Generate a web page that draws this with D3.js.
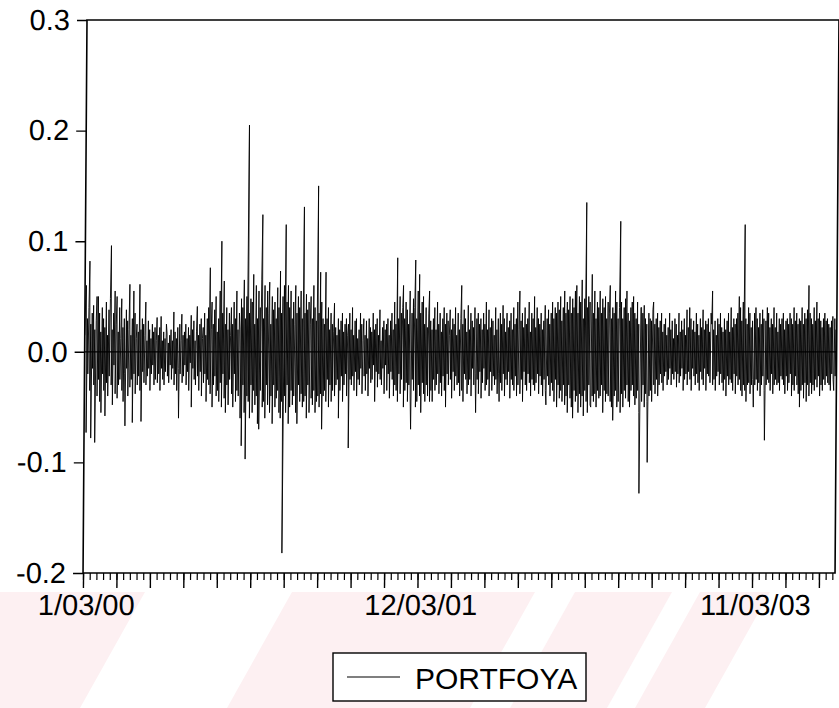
<!DOCTYPE html>
<html>
<head>
<meta charset="utf-8">
<script src="https://cdn.jsdelivr.net/npm/d3@7"></script>
<style>
    body { margin: 0; background: #fff; }
    svg text { font-family: Arial, "Liberation Sans", sans-serif; fill: #000; }
</style>
</head>
<body>
<div id="chart"></div>
<script>
// daily portfolio returns, in thousandths (0.001)
var r2000 = [
    15, 45, 60, -73, 30, -20, 40, 82, -35, 25,
    -78, 35, -15, 42, -30, 20, -82, 28, 50, -40,
    50, -25, 35, -45, 18, -55, 40, -20, 30, -35,
    22, -58, 45, -28, 15, -40, 38, -22, 48, 96,
    -30, 20, -48, 35, -12, 55, -38, 25, 50, -42,
    18, -30, 40, -25, 12, 48, -35, 22, -45, 30,
    -20, -67, 38, -15, 28, -40, 20, 61, -32, 15,
    -25, 30, -64, 55, -20, 35, -38, 12, 25, -30,
    18, -22, 61, -35, 20, -63, 30, -18, 25, -28,
    15, 45, -30, 10, -22, 28, -15, 20, -35, 12,
    -20, 25, -12, 18, -30, 22, -25, 10, 31, -28,
    15, -20, 22, -35, 32, -15, 10, -25, 18, -30,
    12, -18, 25, 17, -22, 8, -28, 15, -12, 20,
    -25, 10, -15, 36, -30, 18, -20, 12, -35, 22,
    -15, -60, 25, -20, 10, 34, -28, 15, -22, 18,
    -12, 25, -30, 12, -18, 22, -35, 15, -10, 33,
    -50, 20, -15, 28, -25, 10, -30, 18, 41, -22,
    15, -35, 25, -18, 30, -40, 12, 22, -28, 35,
    -20, 15, -45, 30, -25, 40, -30, 76, -38, 20,
    45, -50, 25, -30, 38, -22, 50, -40, 18, -35,
    30, -45, 55, -28, 100, -50, 35, -20, 64, -42,
    25, -55, 40, -30, 20, -48, 35, -25, 15, 40,
    -38, 25, -50, 45, -20, 30, -45, 55, -35, 20,
    -40, 35, 20, -60, 48, -85, 40, -30, 65, -55,
    30, -97, 50, -40, 205, -45, 35, -60, 48, -30,
    45, -55, 70, -35, 25, -48, 60, -40, 30, -65
];
var r2001 = [
    55, -70, 40, -35, 65, 124, -50, 30, -45, 60,
    -60, 40, -30, 55, -48, 35, 63, -55, 25, -40,
    50, -65, 38, -30, 45, -50, 30, -42, 58, -35,
    40, -55, 73, -60, 35, -45, 50, -182, 60, -40,
    115, -55, 45, -30, 60, -65, 40, -50, 55, -35,
    30, -48, 45, -40, 25, 60, -55, 35, -65, 50,
    -30, 40, -45, 55, -38, 30, -50, 131, -45, 35,
    -40, 52, -60, 38, -30, 45, -55, 25, 50, -42,
    30, -48, 60, -35, 40, -55, 28, -45, 150, -40,
    35, -50, 72, -38, 45, -70, 30, -40, 25, -35,
    72, -45, 30, -25, 40, -50, 20, -30, 35, -45,
    25, -35, 18, 44, -40, 22, -30, 15, -25, 30,
    -60, 20, -35, 28, -22, 35, -45, 18, -30, 25,
    -20, 30, -40, 15, 25, -87, 35, -25, 20, -30,
    40, -22, 15, -35, 28, -18, 30, -40, 12, -25,
    20, -30, 35, -15, 25, -38, 10, 30, -22, 15,
    -35, 28, -20, 12, -40, 30, -15, 22, -28, 18,
    -25, 35, -12, 20, -45, 25, -18, 30, -32, 15,
    -20, 38, -25, 10, -30, 22, -15, 28, -38, 20,
    -12, 25, -35, 30, -20, 15, -42, 28, -18, 35,
    -25, 20, -40, 45, -30, 25, -35, 85, -45, 30,
    -20, 50, -38, 35, -25, 40, 60, -50, 30, -35,
    45, -28, 38, -45, 25, -30, 55, -40, -70, 35,
    -25, 48, -35, 40, 83, -50, 30, -45, 55, -30,
    70, -40, 35, -55, 45, -28, 50, -38, 25, -45,
    40, -30, 22, -40, 35, 55, -45, 28, -35, 20,
    -45
];
var r2002 = [
    30, -25, 40, -35, 20, -30, 45, -20, 25, -38,
    35, -28, 18, -40, 30, -22, 40, -35, 25, -50,
    35, -20, 28, -30, 15, 38, -25, 20, -42, 30,
    -18, 25, -35, 40, -22, 15, -30, 35, -28, 20,
    -40, 30, 60, -35, 25, -45, 38, -20, 30, -25,
    18, -38, 42, -30, 20, -25, 35, -40, 28, -15,
    22, -30, 40, -20, -55, 30, -25, 35, -38, 25,
    -18, 30, -42, 20, -28, 35, -15, 25, -35, 45,
    -30, 20, -25, 38, -40, 22, -18, 30, -35, 28,
    -22, 15, -30, 40, -25, 20, -38, 30, -20, -45,
    35, -28, 25, -35, 42, -20, 30, -40, 18, -25,
    35, -30, 22, -18, 28, -42, 35, -25, 20, -30,
    40, -35, 25, -22, 30, -40, 45, -30, 20, 55,
    -38, 28, -25, 35, -45, 22, -18, 40, -30, 25,
    -35, 30, -20, 45, -28, 18, -40, 35, -25, 30,
    -30, 50, -35, 22, -28, 40, -20, 30, -38, 25,
    -22, 35, -30, 20, -40, 28, -25, 42, -35, -48,
    30, -22, 38, -30, 25, -40, 35, -28, 45, -35,
    30, -45, 40, -25, 35, -50, 45, -30, 38, -42,
    50, -35, 28, -45, 40, -30, 55, -48, 35, -40,
    45, -55, 38, -30, 50, -42, 35, -50, 48, -60,
    40, -35, 55, -45, 60, -40, 35, -55, 50, -38,
    45, -50, 65, -40, 30, -58, 48, -35, 135, -45,
    40, -55, 50, -30, 45, -48, -50, 70, -40, 35,
    -45, 55, -38, 30, -50, 45, -35, 40, -42, 55,
    -40, 35, -30, 48, -55, 40, -35, 50, -45, 30,
    -38
];
var r2003 = [
    45, -40, 35, 60, -45, 30, -50, 40, -62, 35,
    -40, 55, -35, 45, -50, 30, -45, 40, 118, -55,
    45, -38, 30, -50, 40, -35, 48, -42, 55, -30,
    35, -45, 28, -50, 40, -35, 45, -30, 50, -40,
    35, -48, 30, -42, 45, -35, 25, -55, -128, 40,
    40, -45, 35, -30, 42, -50, 30, -38, 25, -45,
    -100, 35, -40, 30, -35, 28, -45, 38, 45, -30,
    25, -38, 30, -25, 35, -40, 22, -30, 28, -20,
    35, -28, 18, -35, 25, -22, 30, -18, 15, -30,
    22, -25, 35, -15, 20, -30, 28, -20, 12, -25,
    30, -18, 25, -32, 15, -20, 35, -28, 18, -22,
    28, -15, 20, -35, 30, -25, 15, -20, 38, -30,
    22, -18, 40, -25, 30, -35, 20, -15, 28, -22,
    18, -30, 35, -20, 25, -28, 15, -35, 30, -18,
    22, -25, 38, -30, 20, -15, 28, -35, 25, -20,
    30, -22, 18, -28, 35, 25, 55, -30, 20, -25,
    28, -35, 15, -22, 30, -18, 25, -30, 35, -20,
    22, -28, 18, -35, 30, -25, 20, -40, 28, -22,
    35, -30, 18, -25, 40, -28, 22, -35, 30, -20,
    25, -38, 30, -22, 35, -30, 50, -25, 40, -35,
    28, -40, 45, -30, 115, -35, 30, -45, 25, -30,
    40, -28, 35, -38, 22, -30, 28, -25, -50, 35,
    -30, 40, -25, 30, -35, 22, -28, 35, -40, 25,
    -30, 38, -22, 30, -35, -80, 28, -30, 40, -25,
    35, -28, 22, -35, 30, -20, 25, -38, 40, -30,
    22, -25, 35, -30, 18, -28, 30, -35, 25, -22,
    30
];
var r2004 = [
    -25, 35, -30, 20, -38, 28, -22, 30, -35, 25,
    -28, 35, -20, 30, -40, 25, -30, 40, -35, 28,
    -22, 35, -30, 25, -38, 30, -50, 28, -35, 40,
    -30, 25, -42, 35, -28, 30, -45, 38, -30, 60,
    -40, 35, -28, 30, -38, 25, -30, 40, -35, 28,
    -25, 45, -32, 30, -22, 35, -40, 28, -30, 22,
    -35, 30, -25, 35, -30, 28, -22, 30, -28, 25,
    -30, 22, -35, 28, -20, 32, -25, -35, 30, -22,
    20, -15
];

var seriesName = "PORTFOYA";
var yTicks = [-0.2, -0.1, 0.0, 0.1, 0.2, 0.3];
var yTickLabels = ["-0.2", "-0.1", "0.0", "0.1", "0.2", "0.3"];
var dateLabels = ["1/03/00", "12/03/01", "11/03/03"];
var dateLabelObs = [0, 500, 1000];

var series = r2000.concat(r2001, r2002, r2003, r2004).map(function(v) {
    return v / 1000;
});

var width = 839;
var height = 708;
var plotW = 752;
var plotH = 553;

var svg = d3.select('#chart')
    .append('svg')
    .attr('width', width)
    .attr('height', height);

// pale watermark of the scanned page, visible under the chart only
svg.append('clipPath')
    .attr('id', 'wm')
    .append('rect')
    .attr('x', 0)
    .attr('y', 592)
    .attr('width', width)
    .attr('height', height - 592);

var bands = [[-100, 145], [292, 535], [575, 672], [700, 770]];
svg.append('g')
    .attr('clip-path', 'url(#wm)')
    .selectAll('polygon')
    .data(bands)
    .enter()
    .append('polygon')
    .attr('points', function(d) {
        var s = 65;
        return [[d[0], 592], [d[1], 592], [d[1] - s, 708], [d[0] - s, 708]].join(' ');
    })
    .attr('fill', '#fdf0f2');

// the scan is slightly skewed, so the plot is too
var g = svg.append('g')
    .attr('transform', 'translate(87,20) skewX(-0.41)');

var x = d3.scaleLinear()
    .domain([0, series.length - 1])
    .range([0, plotW]);

var y = d3.scaleLinear()
    .domain([-0.2, 0.3])
    .range([plotH, 0]);

// y axis
var yAxis = g.append('g')
    .call(d3.axisLeft(y)
        .tickValues(yTicks)
        .tickSize(10)
        .tickPadding(7)
        .tickFormat(function(d, i) {
            return yTickLabels[i];
        }));
yAxis.select('.domain').remove();
yAxis.selectAll('line').attr('stroke', '#000').attr('stroke-width', 1.4);
yAxis.selectAll('text').attr('font-size', 29).attr('font-family', null);

// x axis: minor ticks every 10 obs, major every 50
var minorAxis = g.append('g')
    .attr('transform', 'translate(0,' + plotH + ')')
    .call(d3.axisBottom(x)
        .tickValues(d3.range(0, series.length, 10))
        .tickSize(7)
        .tickFormat(''));
minorAxis.select('.domain').remove();
minorAxis.selectAll('line').attr('stroke', '#000').attr('stroke-width', 1.2);

var majorAxis = g.append('g')
    .attr('transform', 'translate(0,' + plotH + ')')
    .call(d3.axisBottom(x)
        .tickValues(d3.range(0, series.length, 50))
        .tickSize(15)
        .tickFormat(''));
majorAxis.select('.domain').remove();
majorAxis.selectAll('line').attr('stroke', '#000').attr('stroke-width', 1.4);

var labelAxis = g.append('g')
    .attr('transform', 'translate(3,' + plotH + ')')
    .call(d3.axisBottom(x)
        .tickValues(dateLabelObs)
        .tickSize(0)
        .tickPadding(21)
        .tickFormat(function(d, i) {
            return dateLabels[i];
        }));
labelAxis.select('.domain').remove();
labelAxis.selectAll('text').attr('font-size', 29).attr('font-family', null);

// zero line
g.append('line')
    .attr('x1', 0)
    .attr('x2', plotW)
    .attr('y1', y(0))
    .attr('y2', y(0))
    .attr('stroke', '#000')
    .attr('stroke-width', 1.2);

// series
var line = d3.line()
    .x(function(d, i) { return x(i); })
    .y(function(d) { return y(d); });

g.append('path')
    .datum(series)
    .attr('d', line)
    .attr('fill', 'none')
    .attr('stroke', '#000')
    .attr('stroke-width', 0.9);

// frame
g.append('rect')
    .attr('x', 0)
    .attr('y', 0)
    .attr('width', plotW)
    .attr('height', plotH)
    .attr('fill', 'none')
    .attr('stroke', '#000')
    .attr('stroke-width', 1.6);

// legend
var legend = svg.append('g').attr('class', 'legend');
legend.append('rect')
    .attr('x', 333)
    .attr('y', 653)
    .attr('width', 253)
    .attr('height', 48)
    .attr('fill', '#fff')
    .attr('stroke', '#000')
    .attr('stroke-width', 1.4);
legend.append('line')
    .attr('x1', 347)
    .attr('x2', 400)
    .attr('y1', 677)
    .attr('y2', 677)
    .attr('stroke', '#000')
    .attr('stroke-width', 1.2);
legend.append('text')
    .attr('x', 415)
    .attr('y', 689)
    .attr('font-size', 30)
    .text(seriesName);
</script>
</body>
</html>
